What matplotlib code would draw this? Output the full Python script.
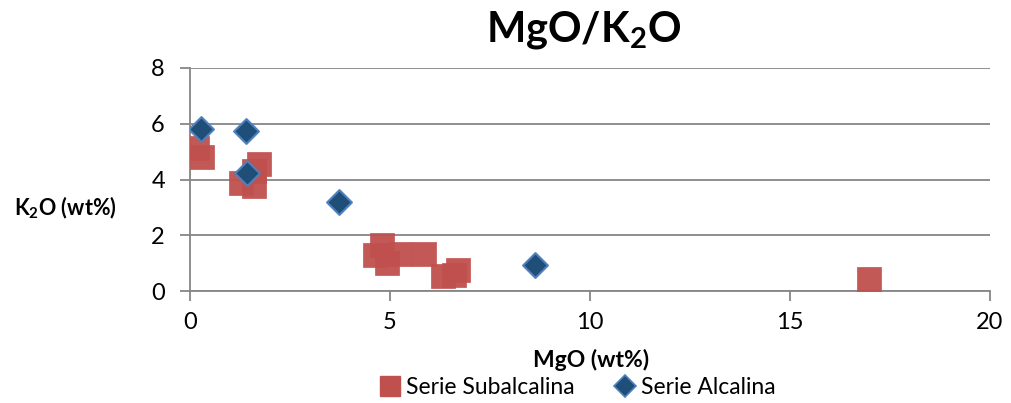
import matplotlib.pyplot as plt
from matplotlib.lines import Line2D

plt.rcParams['font.family'] = ['Lato', 'DejaVu Sans']
plt.rcParams['mathtext.fontset'] = 'custom'
plt.rcParams['mathtext.rm'] = 'Lato'
plt.rcParams['mathtext.bf'] = 'Lato:bold'

# MgO vs K2O (wt%) for the two series
sub_mgo = [0.18, 0.29, 1.73, 1.60, 1.27, 1.60, 4.81, 4.63, 4.93, 5.25, 5.86, 6.33, 6.71, 6.60, 16.98]
sub_k2o = [5.14, 4.79, 4.54, 4.30, 3.86, 3.78, 1.66, 1.29, 1.00, 1.31, 1.34, 0.55, 0.75, 0.58, 0.42]

alc_mgo = [0.27, 1.40, 1.42, 3.72, 8.62]
alc_k2o = [5.81, 5.75, 4.24, 3.20, 0.92]

red = '#C0504D'
blue_face = '#1F4E79'
blue_edge = '#4F81BD'
grey = '#868686'

fig = plt.figure(figsize=(10.12, 4.03), dpi=100)
ax = fig.add_axes([190 / 1012, 1 - 291 / 403, 800 / 1012, 223 / 403])

ax.scatter(sub_mgo, sub_k2o, marker='s', s=300, color=red, alpha=0.95,
           edgecolors=red, linewidths=0.5, zorder=3)
ax.scatter(alc_mgo, alc_k2o, marker='D', s=160, color=blue_face,
           edgecolors=blue_edge, linewidths=1.5, zorder=4)

ax.set_xlim(0, 20)
ax.set_ylim(0, 8)
ax.set_xticks([0, 5, 10, 15, 20])
ax.set_yticks([0, 2, 4, 6, 8])

ax.yaxis.grid(True, color=grey, linewidth=1.3)
ax.set_axisbelow(True)
for side in ['top', 'right']:
    ax.spines[side].set_visible(False)
for side in ['left', 'bottom']:
    ax.spines[side].set_color(grey)
    ax.spines[side].set_linewidth(1.3)
ax.tick_params(axis='both', colors=grey, length=7, width=1.3, labelsize=17,
               labelcolor='black')
ax.tick_params(axis='x', pad=8)
ax.tick_params(axis='y', pad=11)

fig.text(591 / 1012, 1 - 360 / 403, 'MgO (wt%)', fontsize=16.5,
         fontweight='bold', ha='center', va='center')
fig.text(65 / 1012, 1 - 208 / 403, 'K$_\\mathbf{2}$O (wt%)', fontsize=15.5,
         fontweight='bold', ha='center', va='center')
fig.text(584 / 1012, 1 - 30 / 403, 'MgO/K$_\\mathbf{2}$O', fontsize=30,
         fontweight='bold', ha='center', va='center')

handles = [
    Line2D([], [], linestyle='none', marker='s', markersize=14, color=red,
           label='Serie Subalcalina'),
    Line2D([], [], linestyle='none', marker='D', markersize=11, color=blue_face,
           markeredgecolor=blue_edge, markeredgewidth=1.2, label='Serie Alcalina'),
]
fig.legend(handles=handles, loc='center', bbox_to_anchor=(576 / 1012, 1 - 388 / 403),
           ncol=2, frameon=False, fontsize=16.5, handletextpad=0.1,
           columnspacing=1.6, handlelength=1.2)

fig.savefig('out.png', dpi=100)
